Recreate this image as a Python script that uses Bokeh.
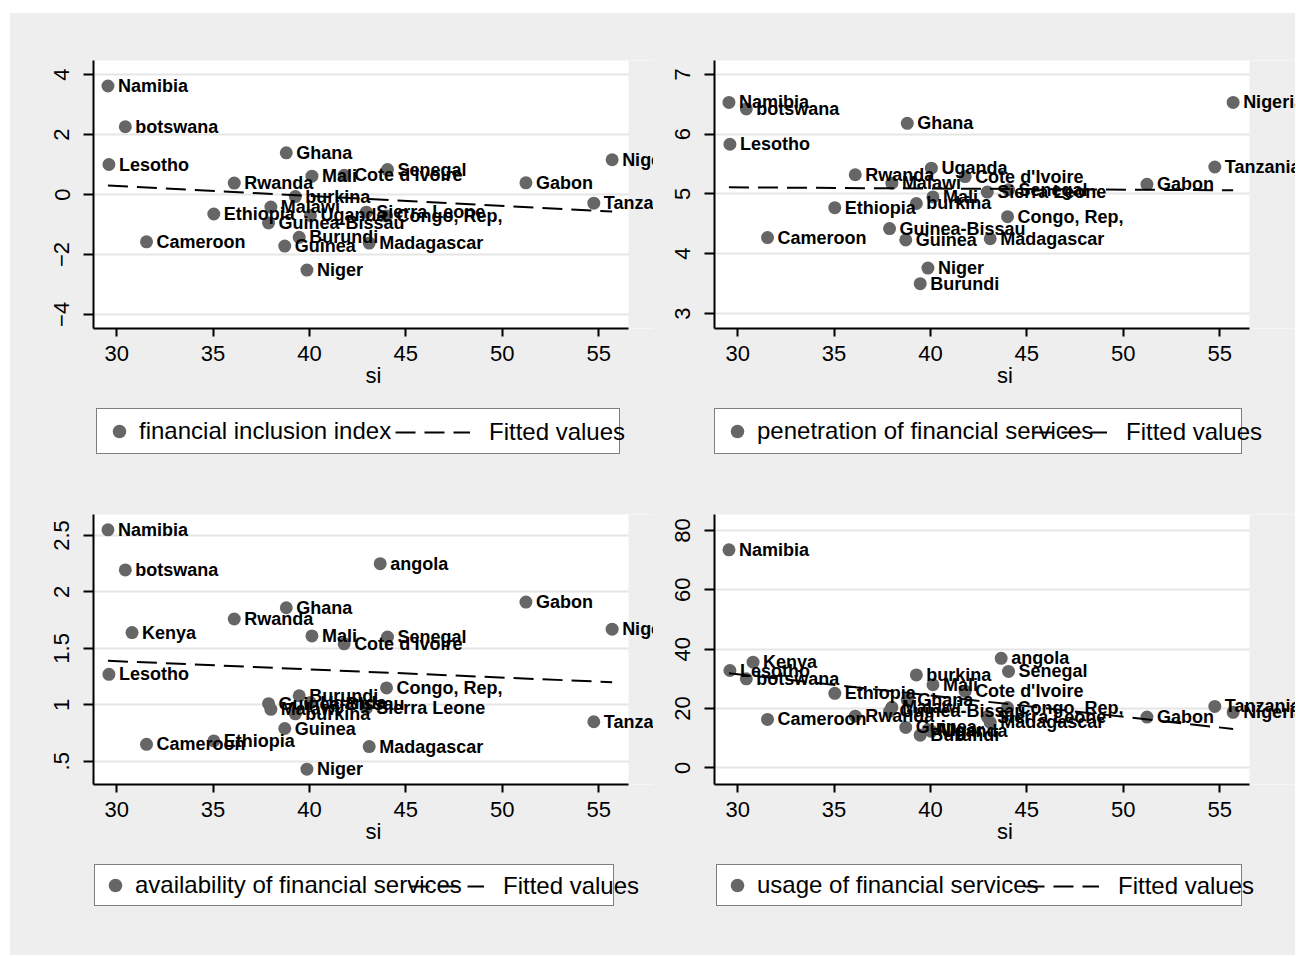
from bokeh.plotting import figure
from bokeh.models import (ColumnDataSource, LabelSet, Legend, LegendItem,
                          FixedTicker, Range1d, Spacer, BoxAnnotation)
from bokeh.layouts import row, column
from bokeh.core.properties import value
from bokeh.embed import file_html
from bokeh.resources import INLINE

# ---------------- data ----------------
countries = ["Namibia", "botswana", "Lesotho", "Kenya", "Cameroon", "Ethiopia",
             "Rwanda", "Guinea-Bissau", "Malawi", "Guinea", "Ghana", "burkina",
             "Burundi", "Niger", "Uganda", "Mali", "Cote d'Ivoire", "Sierra Leone",
             "Madagascar", "angola", "Congo, Rep,", "Senegal", "Gabon", "Tanzania",
             "Nigeria"]
si = [29.55, 30.45, 29.6, 30.8, 31.55, 35.04,
      36.1, 37.88, 38.0, 38.72, 38.8, 39.27,
      39.47, 39.87, 40.05, 40.13, 41.8, 42.95,
      43.1, 43.67, 44.0, 44.05, 51.23, 54.75,
      55.7]
fin_index = [3.62, 2.26, 1.0, None, -1.58, -0.65,
             0.38, -0.95, -0.42, -1.72, 1.39, -0.07,
             -1.43, -2.52, -0.70, 0.61, 0.64, -0.59,
             -1.62, None, -0.72, 0.83, 0.39, -0.29,
             1.16]
penetration = [6.53, 6.42, 5.83, None, 4.27, 4.77,
               5.32, 4.42, 5.18, 4.23, 6.18, 4.84,
               3.50, 3.76, 5.43, 4.95, 5.29, 5.03,
               4.25, None, 4.62, 5.07, 5.16, 5.45,
               6.53]
availability = [2.55, 2.195, 1.27, 1.64, 0.65, 0.68,
                1.76, 1.01, 0.96, 0.79, 1.86, 0.92,
                1.08, 0.43, 1.02, 1.61, 1.54, 0.97,
                0.63, 2.25, 1.15, 1.60, 1.91, 0.85,
                1.67]
usage = [73.5, 30.0, 32.8, 35.6, 16.3, 25.1,
         17.4, 19.0, 20.4, 13.6, 22.8, 31.3,
         11.0, 12.8, 12.3, 28.0, 25.8, 17.2,
         15.3, 36.9, 20.3, 32.5, 17.1, 20.7,
         18.7]

# fitted values (linear fit) at the ends of the si range
fit_si = [29.55, 55.7]
fit_index = [0.30, -0.57]
fit_penetration = [5.11, 5.06]
fit_availability = [1.39, 1.20]
fit_usage = [31.9, 13.1]

x_ticks = [30, 35, 40, 45, 50, 55]
ticks_index = [-4, -2, 0, 2, 4]
ticks_penetration = [3, 4, 5, 6, 7]
ticks_availability = [0.5, 1, 1.5, 2, 2.5]
labels_availability = [".5", "1", "1.5", "2", "2.5"]
ticks_usage = [0, 20, 40, 60, 80]

series_names = ["financial inclusion index", "penetration of financial services",
                "availability of financial services", "usage of financial services"]

# ---------------- styling ----------------
FONT = "Liberation Sans"
BG = "#eeeeee"
MARKER = "#666666"
X_LO, X_HI = 28.8, 56.55       # extent of the white plot region


def make_cell(yvals, fitvals, name, yr, yticks, ylabels, geom):
    # ---- main scatter plot ----
    p = figure(width=geom["w"], height=geom["hm"],
               x_range=Range1d(X_LO, geom["xend"]), y_range=Range1d(*yr),
               output_backend="svg", toolbar_location=None,
               min_border_left=geom["bl"], min_border_right=0,
               min_border_top=geom["bt"], min_border_bottom=72)
    p.background_fill_color = "white"
    p.border_fill_color = BG
    p.outline_line_color = None

    xs = [x for x, y in zip(si, yvals) if y is not None]
    ys = [y for y in yvals if y is not None]
    ns = [c for c, y in zip(countries, yvals) if y is not None]
    src = ColumnDataSource(dict(x=xs, y=ys, name=ns))

    # grey strip right of the plot region (labels may run into it)
    p.add_layout(BoxAnnotation(left=X_HI, fill_color=BG, fill_alpha=1.0,
                               line_color=None, level="underlay"))

    pts_style = dict(size=13, fill_color=MARKER, line_color=None)
    fit_style = dict(line_color="black", line_width=2, line_dash="20 9")
    p.scatter("x", "y", source=src, **pts_style)
    p.line(fit_si, fitvals, **fit_style)
    p.add_layout(LabelSet(x="x", y="y", text="name", source=src, x_offset=10,
                          text_align="left", text_baseline="middle",
                          text_font=value(FONT), text_font_size="18px",
                          text_font_style="bold", text_color="black"))

    p.xgrid.visible = False
    p.ygrid.grid_line_color = "#e6e6e6"
    p.ygrid.grid_line_width = 2
    p.xaxis.ticker = FixedTicker(ticks=x_ticks)
    p.xaxis.bounds = (X_LO, X_HI)
    p.yaxis.ticker = FixedTicker(ticks=yticks)
    if ylabels is not None:
        p.yaxis.major_label_overrides = {float(t): s for t, s in zip(yticks, ylabels)}
    for ax in (p.xaxis[0], p.yaxis[0]):
        ax.axis_line_color = "black"
        ax.axis_line_width = 2
        ax.major_tick_line_color = "black"
        ax.major_tick_line_width = 2
        ax.major_tick_in = 0
        ax.minor_tick_line_color = None
        ax.major_label_text_font = FONT
        ax.major_label_text_font_size = "22px"
        ax.major_label_text_color = "black"
    p.xaxis.major_tick_out = 8
    p.xaxis.major_label_standoff = 9
    p.yaxis.major_tick_out = 10
    p.yaxis.major_label_standoff = 14
    p.yaxis.major_label_orientation = "vertical"
    p.xaxis.axis_label = "si"
    p.xaxis.axis_label_text_font = FONT
    p.xaxis.axis_label_text_font_size = "22px"
    p.xaxis.axis_label_text_font_style = "normal"
    p.xaxis.axis_label_text_color = "black"
    p.xaxis.axis_label_standoff = -1

    # ---- legend strip (its key renderers hold the same series, out of view) ----
    lf = figure(width=geom["w"], height=geom["hl"],
                x_range=Range1d(0, 1), y_range=Range1d(0, 1),
                x_axis_location=None, y_axis_location=None,
                output_backend="svg", toolbar_location=None,
                min_border_left=geom["bl"], min_border_right=0,
                min_border_top=0, min_border_bottom=0)
    lf.background_fill_color = BG
    lf.border_fill_color = BG
    lf.outline_line_color = None
    lf.grid.visible = False
    key_pts = lf.scatter("x", "y", source=src, **pts_style)
    key_fit = lf.line(fit_si, fitvals, **fit_style)

    pad = geom["pad"]
    common = dict(orientation="horizontal", glyph_height=34, label_height=30,
                  padding=pad, margin=0, spacing=0,
                  label_text_font=FONT, label_text_font_size="24px",
                  label_text_color="black", border_line_color="black",
                  border_line_width=1)
    leg1 = Legend(items=[LegendItem(label=name, renderers=[key_pts])],
                  location=(geom["lx1"], geom["ly"]), glyph_width=34,
                  label_standoff=3, label_width=geom["lw"],
                  background_fill_color="white", background_fill_alpha=1.0,
                  **common)
    leg2 = Legend(items=[LegendItem(label="Fitted values", renderers=[key_fit])],
                  location=(geom["lx2"], geom["ly"]), glyph_width=75,
                  label_standoff=19, border_line_alpha=0.0,
                  background_fill_alpha=0.0, **common)
    lf.add_layout(leg1, "center")
    lf.add_layout(leg2, "center")
    return column(p, lf)


# plot region: col1 frame 93..628, col2 714..1249 (19.28 px per si unit)
g1 = dict(w=643, hm=387, hl=84, bl=83, bt=47, xend=57.846,
          pad=5, lx1=3, lx2=297, ly=30, lw=475)
g2 = dict(w=642, hm=387, hl=84, bl=61, bt=47, xend=58.935,
          pad=5, lx1=0, lx2=313, ly=30, lw=479)
g3 = dict(w=643, hm=372, hl=99, bl=83, bt=30, xend=57.846,
          pad=3, lx1=1, lx2=313, ly=49, lw=475)
g4 = dict(w=642, hm=372, hl=99, bl=61, bt=30, xend=58.935,
          pad=3, lx1=2, lx2=307, ly=49, lw=481)

c1 = make_cell(fin_index, fit_index, series_names[0], (-4.47, 4.47), ticks_index, None, g1)
c2 = make_cell(penetration, fit_penetration, series_names[1], (2.75, 7.23), ticks_penetration, None, g2)
c3 = make_cell(availability, fit_availability, series_names[2], (0.294, 2.686),
               ticks_availability, labels_availability, g3)
c4 = make_cell(usage, fit_usage, series_names[3], (-5.63, 85.4), ticks_usage, None, g4)

grid = column(row(c1, c2), row(c3, c4), styles={"background-color": BG})
layout = column(Spacer(height=13), row(Spacer(width=10), grid))

open("out.html", "w").write(file_html(layout, INLINE))
